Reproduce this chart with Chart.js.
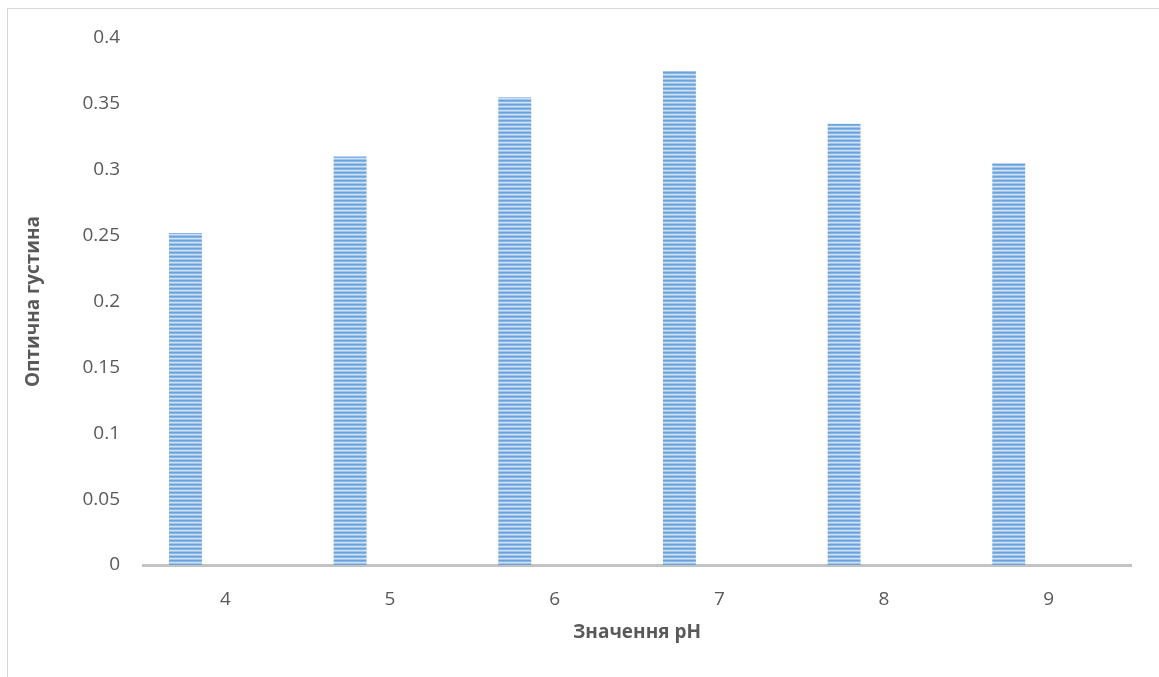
<!DOCTYPE html>
<html lang="uk">
<head>
    <meta charset="UTF-8">
    <title>Оптична густина</title>
    <style>
        html, body {
            margin: 0;
            padding: 0;
            background: #ffffff;
            overflow: hidden;
        }

        #frame {
            position: absolute;
            left: 7px;
            top: 8px;
            width: 1160px;
            height: 680px;
            border: 1px solid #d9d9d9;
        }

        #wrap {
            position: absolute;
            left: 0;
            top: 0;
            width: 1159px;
            height: 677px;
        }
    </style>
</head>
<body>
    <div id="frame"></div>
    <div id="wrap"><canvas id="phChart" width="1159" height="677"></canvas></div>

    <script src="https://cdn.jsdelivr.net/npm/chart.js"></script>
    <script>
        // значення pH та виміряна оптична густина
        const phValues = ['4', '5', '6', '7', '8', '9'];
        const density = [0.252, 0.31, 0.355, 0.375, 0.335, 0.305];
        const yTicks = [0, 0.05, 0.1, 0.15, 0.2, 0.25, 0.3, 0.35, 0.4];
        const emptySeries = [null, null, null, null, null, null];

        // смугаста заливка стовпців
        function stripes() {
            const c = document.createElement('canvas');
            c.width = 4;
            c.height = 4;
            const g = c.getContext('2d');
            const rows = ['#6ba2db', '#86b4e3', '#cfe2f5', '#a1c5ea'];
            rows.forEach((col, i) => {
                g.fillStyle = col;
                g.fillRect(0, i, 4, 1);
            });
            return g.createPattern(c, 'repeat');
        }

        const textColor = '#595959';
        const fontFamily = "'Open Sans', 'DejaVu Sans', sans-serif";

        new Chart(document.getElementById('phChart').getContext('2d'), {
            type: 'bar',
            data: {
                labels: phValues,
                datasets: [
                    { label: 'Оптична густина', data: density, backgroundColor: stripes(), borderWidth: 0 },
                    { label: '', data: emptySeries },
                    { label: '', data: emptySeries }
                ]
            },
            options: {
                responsive: false,
                animation: false,
                events: [],
                categoryPercentage: 0.727,
                barPercentage: 0.825,
                layout: {
                    padding: { left: 0, right: 28, top: 38, bottom: 0 }
                },
                plugins: {
                    legend: { display: false },
                    tooltip: { enabled: false }
                },
                scales: {
                    x: {
                        grid: { display: false, drawTicks: false },
                        border: { display: true, color: '#c3c3c3', width: 3 },
                        ticks: {
                            color: textColor,
                            padding: 23,
                            font: { family: fontFamily, size: 19 }
                        },
                        title: {
                            display: true,
                            text: 'Значення pH',
                            color: textColor,
                            padding: { top: 12, bottom: 33 },
                            font: { family: fontFamily, size: 19, weight: 'bold' }
                        },
                        afterFit: s => { s.height = 112; }
                    },
                    y: {
                        min: 0,
                        max: 0.4,
                        afterBuildTicks: s => { s.ticks = yTicks.map(v => ({ value: v })); },
                        grid: { display: false, drawTicks: false },
                        border: { display: false },
                        ticks: {
                            color: textColor,
                            padding: 23,
                            font: { family: fontFamily, size: 19 },
                            callback: v => String(v)
                        },
                        title: {
                            display: true,
                            text: 'Оптична густина',
                            color: textColor,
                            padding: { top: 22, bottom: 0 },
                            font: { family: fontFamily, size: 19, weight: 'bold' }
                        },
                        afterFit: s => { s.width = 143; }
                    }
                }
            }
        });
    </script>
</body>
</html>
